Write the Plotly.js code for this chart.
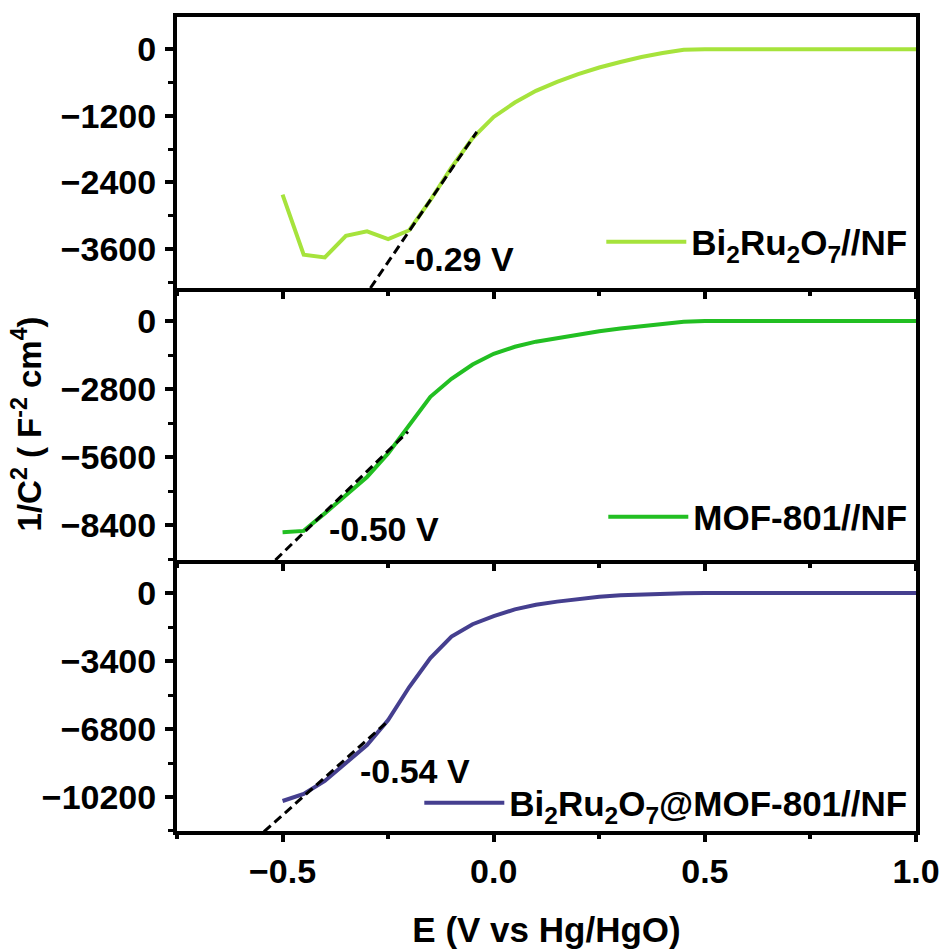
<!DOCTYPE html>
<html>
<head>
<meta charset="utf-8">
<script src="https://cdn.plot.ly/plotly-3.0.1.min.js"></script>
<style>html,body{margin:0;padding:0;background:#fff;}#chart{width:946px;height:949px;}</style>
</head>
<body>
<div id="chart"></div>
<script>
// Potential (V vs Hg/HgO)
const potential = [-0.5,-0.45,-0.4,-0.35,-0.3,-0.25,-0.2,-0.15,-0.1,-0.05,0.0,0.05,0.1,0.15,0.2,0.25,0.3,0.35,0.4,0.45,0.5,0.55,0.6,0.65,0.7,0.75,0.8,0.85,0.9,0.95,1.0];
// 1/C^2 series
const bi2ru2o7 = [-2620,-3700,-3750,-3360,-3280,-3420,-3260,-2720,-2130,-1600,-1220,-960,-750,-590,-450,-330,-230,-140,-70,-10,0,0,0,0,0,0,0,0,0,0,0];
const mof801 = [-8700,-8640,-7920,-7150,-6420,-5450,-4280,-3120,-2380,-1790,-1350,-1060,-850,-700,-560,-420,-310,-210,-120,-30,0,0,0,0,0,0,0,0,0,0,0];
const composite = [-10400,-10050,-9400,-8480,-7600,-6350,-4700,-3250,-2180,-1560,-1150,-820,-590,-430,-290,-190,-110,-60,-30,-10,0,0,0,0,0,0,0,0,0,0,0];
// Tangent (Mott-Schottky) fit lines
const fitX_bi = [-0.292, -0.04];
const fitY_bi = [-4300, -1490];
const fitX_mof = [-0.517, -0.203];
const fitY_mof = [-9840, -4558];
const fitX_comp = [-0.544, -0.256];
const fitY_comp = [-11933, -6517];
// Labels
const seriesNames = ['Bi<sub>2</sub>Ru<sub>2</sub>O<sub>7</sub>//NF', 'MOF-801//NF', 'Bi<sub>2</sub>Ru<sub>2</sub>O<sub>7</sub>@MOF-801//NF'];
const flatbandLabels = ['-0.29 V', '-0.50 V', '-0.54 V'];
const flatbandPos = [[-0.217, -3778], [-0.395, -8563], [-0.321, -8900]];

const FONT = 'Liberation Sans, Arial, Helvetica, sans-serif';
const colors = ['#a6e33c', '#22bf22', '#453f8f'];

const traces = [
  {x: potential, y: bi2ru2o7, xaxis: 'x3', yaxis: 'y3', mode: 'lines', name: seriesNames[0], legend: 'legend', line: {color: colors[0], width: 4}},
  {x: fitX_bi, y: fitY_bi, xaxis: 'x3', yaxis: 'y3', mode: 'lines', showlegend: false, line: {color: '#000', width: 3, dash: '9px,5px'}},
  {x: potential, y: mof801, xaxis: 'x2', yaxis: 'y2', mode: 'lines', name: seriesNames[1], legend: 'legend2', line: {color: colors[1], width: 4}},
  {x: fitX_mof, y: fitY_mof, xaxis: 'x2', yaxis: 'y2', mode: 'lines', showlegend: false, line: {color: '#000', width: 3, dash: '9px,5px'}},
  {x: potential, y: composite, xaxis: 'x', yaxis: 'y', mode: 'lines', name: seriesNames[2], legend: 'legend3', line: {color: colors[2], width: 4}},
  {x: fitX_comp, y: fitY_comp, xaxis: 'x', yaxis: 'y', mode: 'lines', showlegend: false, line: {color: '#000', width: 3, dash: '9px,5px'}}
];

const tickFont = {family: FONT, size: 34, color: '#000', weight: 'bold'};
function xa(extra) {
  return Object.assign({
    range: [-0.75, 1.0], dtick: 0.5, tick0: 0, tickformat: '.1f', ticks: 'outside', ticklen: 7, tickwidth: 3.5, tickcolor: '#000',
    showline: true, linewidth: 4, linecolor: '#000', showgrid: false, zeroline: false,
    minor: {ticks: 'outside', dtick: 0.25, ticklen: 4, tickwidth: 3.5, tickcolor: '#000', showgrid: false},
    tickfont: tickFont
  }, extra);
}
function ya(extra) {
  return Object.assign({
    ticks: 'outside', ticklen: 8, tickwidth: 3.5, tickcolor: '#000', tickformat: 'd', exponentformat: 'none',
    showline: true, linewidth: 4, linecolor: '#000', mirror: true, showgrid: false, zeroline: false,
    tickfont: tickFont, ticklabelstandoff: 2
  }, extra);
}
const legBase = {font: {family: FONT, size: 35, color: '#000', weight: 'bold'}, bgcolor: 'rgba(0,0,0,0)', borderwidth: 0, xanchor: 'right', yanchor: 'middle', x: 0.995, itemwidth: 80};

const layout = {
  width: 946, height: 949,
  margin: {l: 177, r: 30, t: 17, b: 118},
  paper_bgcolor: '#fff', plot_bgcolor: '#fff',
  font: {family: FONT, color: '#000'},
  xaxis: xa({anchor: 'y', domain: [0, 1], title: {text: 'E (V vs Hg/HgO)', font: {family: FONT, size: 35, color: '#000', weight: 'bold'}, standoff: 34}}),
  xaxis2: xa({anchor: 'y2', matches: 'x', showticklabels: false}),
  xaxis3: xa({anchor: 'y3', matches: 'x', showticklabels: false, mirror: true}),
  yaxis: ya({domain: [0, 0.3329], range: [-11900, 1650], dtick: 3400, tick0: 0, minor: {ticks: 'outside', dtick: 1700, tick0: 0, ticklen: 5, tickwidth: 3, tickcolor: '#000'}}),
  yaxis2: ya({domain: [0.3329, 0.6671], range: [-9840, 1360], dtick: 2800, tick0: 0, minor: {ticks: 'outside', dtick: 1400, tick0: 0, ticklen: 5, tickwidth: 3, tickcolor: '#000'},
    title: {text: '1/C<sup>2</sup> ( F<sup>-2</sup> cm<sup>4</sup>)', font: {family: FONT, size: 33, color: '#000', weight: 'bold'}, standoff: 10}}),
  yaxis3: ya({domain: [0.6671, 1], range: [-4300, 580], dtick: 1200, tick0: 0, minor: {ticks: 'outside', dtick: 600, tick0: 0, ticklen: 5, tickwidth: 3, tickcolor: '#000'}}),
  legend: Object.assign({}, legBase, {y: 0.7236}),
  legend2: Object.assign({}, legBase, {y: 0.3857}),
  legend3: Object.assign({}, legBase, {y: 0.0344}),
  annotations: [
    {xref: 'x3', yref: 'y3', x: flatbandPos[0][0], y: flatbandPos[0][1], text: flatbandLabels[0], showarrow: false, xanchor: 'left', yanchor: 'middle', font: {family: FONT, size: 34, color: '#000', weight: 'bold'}},
    {xref: 'x2', yref: 'y2', x: flatbandPos[1][0], y: flatbandPos[1][1], text: flatbandLabels[1], showarrow: false, xanchor: 'left', yanchor: 'middle', font: {family: FONT, size: 34, color: '#000', weight: 'bold'}},
    {xref: 'x', yref: 'y', x: flatbandPos[2][0], y: flatbandPos[2][1], text: flatbandLabels[2], showarrow: false, xanchor: 'left', yanchor: 'middle', font: {family: FONT, size: 34, color: '#000', weight: 'bold'}}
  ],
  showlegend: true
};

Plotly.newPlot('chart', traces, layout, {displayModeBar: false});
</script>
</body>
</html>
